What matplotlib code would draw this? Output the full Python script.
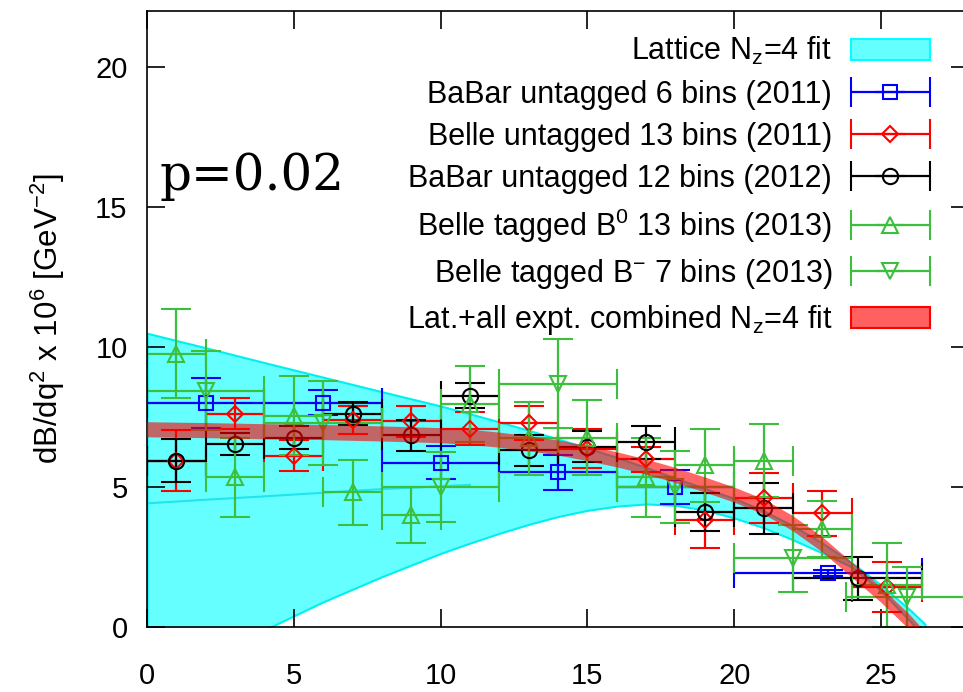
import matplotlib
matplotlib.use("Agg")
import matplotlib.pyplot as plt
from matplotlib.patches import Patch
from matplotlib.container import ErrorbarContainer
from matplotlib.legend_handler import HandlerErrorbar

plt.rcParams['font.family'] = ['Liberation Sans', 'DejaVu Sans']
plt.rcParams['mathtext.fontset'] = 'custom'
plt.rcParams['mathtext.rm'] = 'Liberation Sans'
plt.rcParams['mathtext.it'] = 'Liberation Sans:italic'

# lattice N_z=4 fit band (q^2 in GeV^2, dB/dq^2 x 10^6)
lat_q = [0, 2, 4, 6, 8, 10, 11, 12, 13, 14, 15, 16, 17, 18, 19, 20, 21, 22, 23, 24, 25, 26, 26.5]
lat_lo = [-1.9, -0.95, -0.1, 0.9, 1.8, 2.63, 3.0, 3.35, 3.67, 3.95, 4.17, 4.32, 4.4, 4.35, 4.18, 3.9, 3.55, 3.12, 2.65, 2.15, 1.3, 0.2, -0.4]
lat_hi = [10.5, 9.98, 9.45, 8.93, 8.41, 7.9, 7.62, 7.33, 7.03, 6.72, 6.4, 6.06, 5.7, 5.32, 4.95, 4.6, 4.15, 3.62, 3.0, 2.3, 1.5, 0.6, 0.1]
# inner edge visible inside the lattice band
lat_in_q = [0, 2, 4, 6, 8, 10, 11]
lat_in = [4.42, 4.55, 4.67, 4.8, 4.93, 5.03, 5.08]

# lattice + all experiments combined fit
comb_q = [0, 2, 4, 6, 8, 10, 11, 12, 13, 14, 15, 16, 17, 18, 19, 20, 21, 22, 23, 24, 25, 26, 26.3]
comb_mid = [7.05, 7.02, 6.98, 6.95, 6.9, 6.84, 6.78, 6.68, 6.55, 6.4, 6.2, 5.98, 5.72, 5.42, 5.08, 4.72, 4.3, 3.7, 2.95, 2.05, 1.15, 0.15, -0.2]
comb_lo = [v - 0.27 for v in comb_mid]
comb_hi = [v + 0.27 for v in comb_mid]

# BaBar untagged 6 bins (2011)
bb6_q = [2, 6, 10, 14, 18, 23.2]
bb6_dq = [2, 2, 2, 2, 2, 3.2]
bb6_y = [8.0, 8.02, 5.88, 5.53, 5.0, 1.93]
bb6_err = [0.9, 0.45, 0.6, 0.62, 0.6, 0.1]

# Belle untagged 13 bins (2011)
bl13_q = [1, 3, 5, 7, 9, 11, 13, 15, 17, 19, 21, 23, 25.2]
bl13_dq = [1, 1, 1, 1, 1, 1, 1, 1, 1, 1, 1, 1, 1.2]
bl13_y = [5.95, 7.62, 6.13, 7.4, 7.35, 7.09, 7.3, 6.38, 6.0, 3.81, 4.6, 4.06, 1.43]
bl13_err = [1.1, 0.55, 0.55, 0.5, 0.55, 0.6, 0.6, 0.7, 0.45, 0.98, 0.9, 0.8, 0.89]

# BaBar untagged 12 bins (2012)
bb12_q = [1, 3, 5, 7, 9, 11, 13, 15, 17, 19, 21, 24.2]
bb12_dq = [1, 1, 1, 1, 1, 1, 1, 1, 1, 1, 1, 2.2]
bb12_y = [5.95, 6.55, 6.77, 7.63, 6.85, 8.27, 6.31, 6.45, 6.6, 4.1, 4.24, 1.74]
bb12_err = [0.77, 0.4, 0.4, 0.4, 0.55, 0.45, 0.55, 0.55, 0.6, 0.68, 0.9, 0.77]

# Belle tagged B0 13 bins (2013)
b0_q = [1, 3, 5, 7, 9, 11, 13, 15, 17, 19, 21, 23, 25.2]
b0_dq = [1, 1, 1, 1, 1, 1, 1, 1, 1, 1, 1, 1, 1.2]
b0_y = [9.77, 5.35, 7.56, 4.81, 4.0, 7.98, 6.75, 6.77, 5.35, 5.78, 5.95, 3.5, 1.5]
b0_err = [1.6, 1.4, 1.4, 1.15, 1.0, 1.35, 1.3, 1.35, 1.4, 1.3, 1.3, 1.0, 1.5]

# Belle tagged B- 7 bins (2013)
bm_q = [2, 6, 10, 14, 18, 22, 25.9]
bm_dq = [2, 2, 2, 2, 2, 2, 2.1]
bm_y = [8.45, 7.3, 5.0, 8.7, 5.0, 2.46, 1.07]
bm_err = [1.42, 1.5, 1.25, 1.6, 1.3, 1.2, 1.07]

labels = ['Lattice N$_\\mathrm{z}$=4 fit',
          'BaBar untagged 6 bins (2011)',
          'Belle untagged 13 bins (2011)',
          'BaBar untagged 12 bins (2012)',
          'Belle tagged B$^0$ 13 bins (2013)',
          'Belle tagged B$^{-}$ 7 bins (2013)',
          'Lat.+all expt. combined N$_\\mathrm{z}$=4 fit']

green = '#3cbf3c'

fig = plt.figure(figsize=(9.63, 6.92), dpi=100)
ax = fig.add_axes([0.1527, 0.0939, 0.8536, 0.8895])

ax.fill_between(lat_q, lat_lo, lat_hi, facecolor='#66ffff', edgecolor='#00f0f0', lw=1.5, zorder=1)
ax.plot(lat_in_q, lat_in, color='#20e4ee', lw=1.5, zorder=1.5)

sets = [
    (bb6_q, bb6_dq, bb6_y, bb6_err, 'blue', 's', 10),
    (bl13_q, bl13_dq, bl13_y, bl13_err, 'red', 'D', 8),
    (bb12_q, bb12_dq, bb12_y, bb12_err, 'black', 'o', 11),
    (b0_q, b0_dq, b0_y, b0_err, green, '^', 11),
    (bm_q, bm_dq, bm_y, bm_err, green, 'v', 11),
]
conts = []
for q, dq, y, e, c, m, ms in sets:
    cont = ax.errorbar(q, y, xerr=dq, yerr=e, fmt=m, mfc='none', mec=c, ms=ms, mew=1.5,
                       ecolor=c, elinewidth=1.6, capsize=11, capthick=1.6, ls='none', zorder=2)
    conts.append(cont)

ax.fill_between(comb_q, comb_lo, comb_hi, facecolor='red', alpha=0.6, edgecolor='none', zorder=3)

ax.set_xlim(0, 28)
ax.set_ylim(0, 22)
ax.set_xticks([0, 5, 10, 15, 20, 25])
ax.set_yticks([0, 5, 10, 15, 20])
ax.tick_params(direction='in', length=13, width=1.2, top=True, right=True, labelsize=21)
ax.tick_params(axis='x', pad=25)
ax.tick_params(axis='y', pad=14)
for s in ax.spines.values():
    s.set_linewidth(1.2)

ax.set_ylabel('dB/dq$^2$ x 10$^6$ [GeV$^{-2}$]', fontsize=22.5, labelpad=20)

handles = [Patch(facecolor='#66ffff', edgecolor='#00ffff', lw=1.5)] + conts + \
          [Patch(facecolor='#ff6060', edgecolor='red', lw=1.5)]
ax.legend(handles, labels, loc='upper right', bbox_to_anchor=(26.67, 21.15),
          bbox_transform=ax.transData, frameon=False, fontsize=22, markerfirst=False,
          handlelength=2.6, handletextpad=0.6, labelspacing=0.4, borderpad=0,
          borderaxespad=0,
          handler_map={ErrorbarContainer: HandlerErrorbar(xerr_size=1.3, yerr_size=0)})

fig.text(0.166, 0.725, 'p=0.02', family='DejaVu Serif', fontsize=36, va='baseline')

fig.savefig('out.png', dpi=100)
